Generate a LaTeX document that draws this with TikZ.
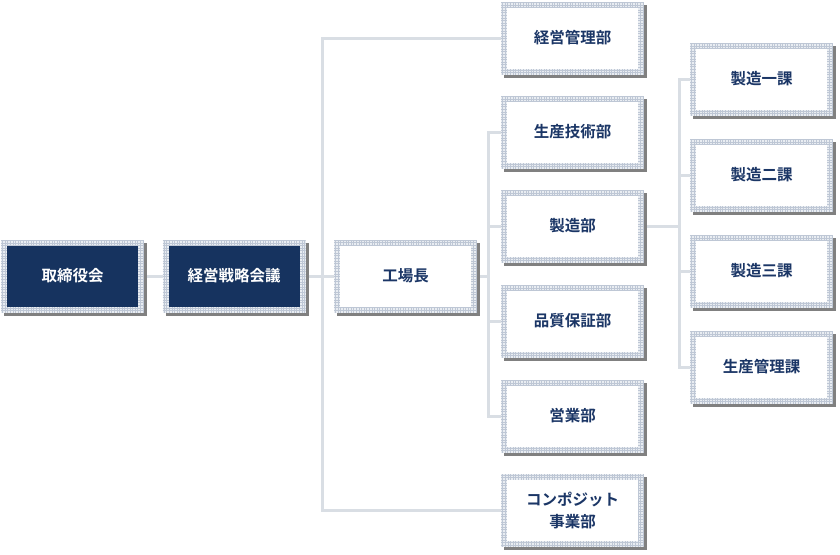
\documentclass[tikz,border=0pt]{standalone}
\usepackage{fontspec}
\newfontfamily\jp{Noto Sans CJK JP}[BoldFont={Noto Sans CJK JP Bold}]
\usetikzlibrary{shadows}
\definecolor{navy}{HTML}{16335F}
\definecolor{txtcol}{HTML}{1B3666}
\definecolor{conncol}{HTML}{D9DEE4}
\definecolor{gridbg}{HTML}{E9EDF2}
\definecolor{gridln}{HTML}{BEC7D5}
\tikzset{
 orgbase/.style={minimum width=143pt, minimum height=73pt, inner sep=0pt, outer sep=0pt,
   align=center, font=\jp\bfseries\fontsize{15.5}{22}\selectfont,
   drop shadow={shadow xshift=3pt, shadow yshift=-3pt, fill=black!50, opacity=1}, fill=gridbg},
 gridpic/.style={path picture={
   \draw[gridln, line width=0.6pt, step=2.6pt] (path picture bounding box.south west) grid (path picture bounding box.north east);
   \fill[#1] ([shift={(6pt,6pt)}]path picture bounding box.south west) rectangle ([shift={(-6pt,-6pt)}]path picture bounding box.north east);
 }},
 darkbox/.style={orgbase, gridpic=navy, text=white},
 lightbox/.style={orgbase, gridpic=white, text=txtcol},
 connline/.style={draw=conncol, line width=3pt},
}
\begin{document}
\begin{tikzpicture}[x=1pt, y=-1pt]
\useasboundingbox[fill=white] (0,0) rectangle (840,554);
% nodes
\node[darkbox] (A) at (72.5,276) {取締役会};
\node[darkbox] (B) at (234,276) {経営戦略会議};
\node[lightbox] (C) at (405.5,276) {工場長};
\node[lightbox] (M1) at (572.5,38) {経営管理部};
\node[lightbox] (M2) at (572.5,132) {生産技術部};
\node[lightbox] (M3) at (572.5,226) {製造部};
\node[lightbox] (M4) at (572.5,321) {品質保証部};
\node[lightbox] (M5) at (572.5,416) {営業部};
\node[lightbox] (M6) at (572.5,510) {コンポジット\\事業部};
\node[lightbox] (R1) at (761.5,79) {製造一課};
\node[lightbox] (R2) at (761.5,175) {製造二課};
\node[lightbox] (R3) at (761.5,271) {製造三課};
\node[lightbox] (R4) at (761.5,367) {生産管理課};
% connectors
\draw[connline] ([xshift=3pt]A.east) -- (B.west);
\draw[connline] ([xshift=3pt]B.east) -- (C.west);
\draw[connline] (M1.west) -- ++(-178.5,0) |- (M6.west);
\draw[connline] ([xshift=3pt]C.east) -- ++(9,0);
\draw[connline] (M2.west) -- ++(-12.5,0) |- (M5.west);
\draw[connline] (M3.west) -- ++(-12.5,0);
\draw[connline] (M4.west) -- ++(-12.5,0);
\draw[connline] ([xshift=3pt]M3.east) -- ++(31.5,0);
\draw[connline] (R1.west) -- ++(-11,0) |- (R4.west);
\draw[connline] (R2.west) -- ++(-11,0);
\draw[connline] (R3.west) -- ++(-11,0);
\end{tikzpicture}
\end{document}
